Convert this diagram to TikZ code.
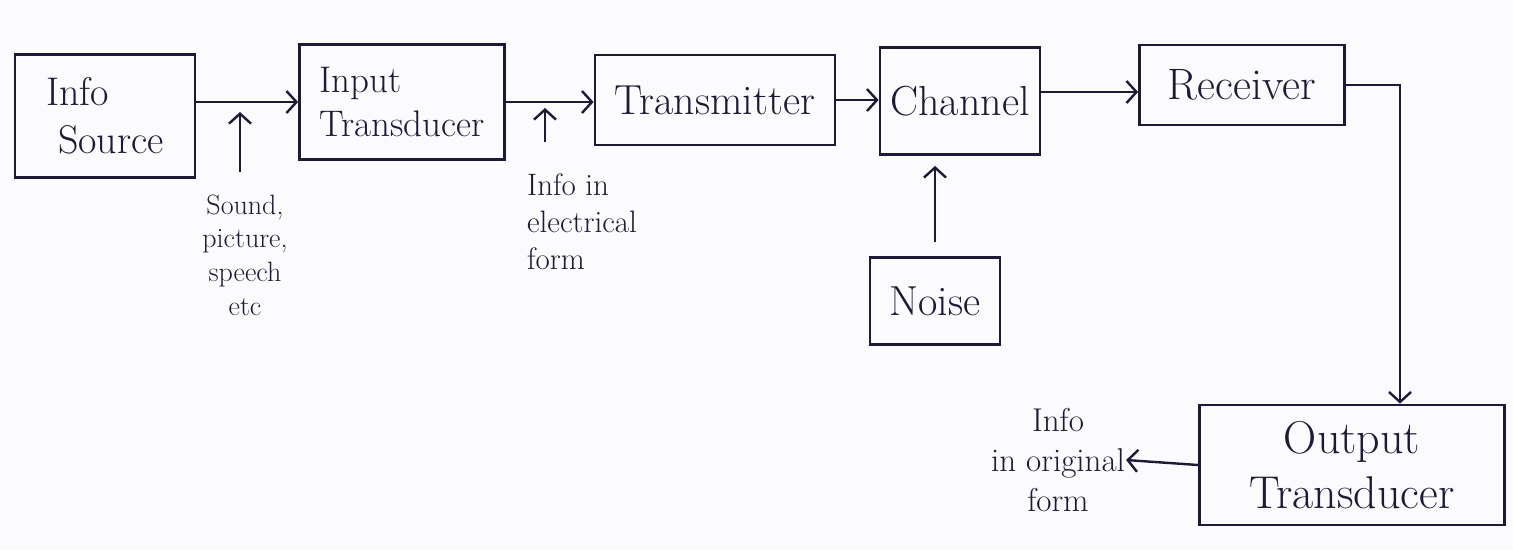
\documentclass[tikz,border=0pt]{standalone}
\usetikzlibrary{arrows.meta}
\definecolor{ink}{HTML}{1C1A36}
\definecolor{paper}{HTML}{FBFBFD}
\newcommand{\fs}[1]{\fontsize{#1}{1.2\dimexpr #1pt\relax}\selectfont}
\begin{document}
\begin{tikzpicture}[x=1pt,y=-1pt,
  every node/.style={text=ink},
  block/.style={draw=ink,line width=2.8pt,rectangle,align=left,inner sep=4pt},
  note/.style={align=center,inner sep=1pt},
  arr/.style={draw=ink,line width=2.4pt,-{Straight Barb[length=10pt,width=22pt,line width=2.4pt]}}]
  % page
  \fill[paper] (0,0) rectangle (1513,550);
  \useasboundingbox (0,0) rectangle (1513,550);

  % blocks of the communication chain
  \node[block,minimum width=180pt,minimum height=123pt,font=\fs{40}] (src) at (105,116) {Info\\\ Source};
  \node[block,minimum width=205pt,minimum height=115pt,font=\fs{37}] (itr) at (402,102) {Input\\Transducer};
  \node[block,minimum width=240pt,minimum height=90pt,font=\fs{42}] (tx) at (715,100) {Transmitter};
  \node[block,minimum width=160pt,minimum height=107pt,font=\fs{42}] (ch) at (960,101) {Channel};
  \node[block,minimum width=205pt,minimum height=80pt,font=\fs{44}] (rx) at (1242,85) {Receiver};
  \node[block,minimum width=130pt,minimum height=87pt,font=\fs{42}] (noise) at (935,301) {Noise};
  \node[block,minimum width=305pt,minimum height=120pt,align=center,font=\fs{46}] (otr) at (1352,465) {Output\\Transducer};

  % side notes
  \node[note,font=\fs{28}] (snd) at (245,255) {Sound,\\picture,\\speech\\etc};
  \node[note,align=left,font=\fs{31}] (elec) at (582,222) {Info in\\electrical\\form};
  \node[note,font=\fs{33}] (orig) at (1058,460) {Info\\in original\\form};

  \coordinate (sndtip) at (240,112);
  \coordinate (sndtail) at (240,172);
  \coordinate (electip) at (545,108);
  \coordinate (electail) at (545,142);
  \coordinate (down) at (1400,85);

  % signal path
  \draw[arr] (src.east |- itr.west) -- (itr.west);
  \draw[arr] (itr.east) -- (itr.east -| tx.west);
  \draw[arr] (tx.east) -- (tx.east -| ch.west);
  \draw[arr] (ch.east |- 0,92) -- (rx.west |- 0,92);
  \draw[arr] (rx.east) -- (down) -- (down |- otr.north);
  \draw[arr] (otr.west) -- (orig.east);

  % inputs from below
  \draw[arr] (sndtail) -- (sndtip);
  \draw[arr] (electail) -- (electip);
  \draw[arr] ([yshift=14pt]noise.north) -- ([yshift=-10pt]noise.north |- ch.south);
\end{tikzpicture}
\end{document}
